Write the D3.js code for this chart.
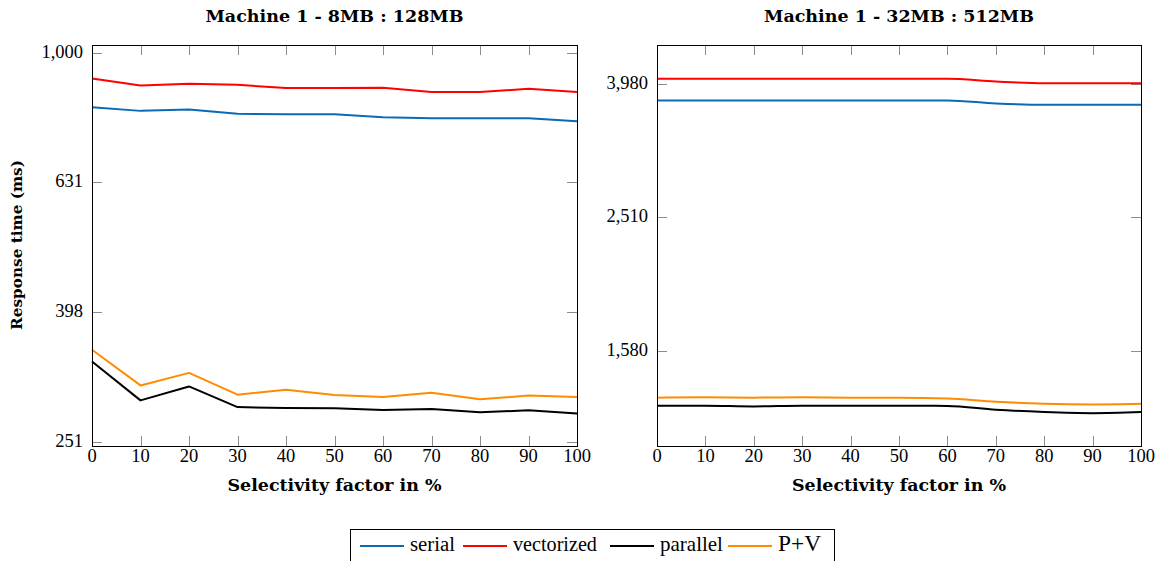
<!DOCTYPE html>
<html><head><meta charset="utf-8">
<script src="https://cdn.jsdelivr.net/npm/d3@7"></script>
<style>body{margin:0;background:#fff}svg{display:block}</style>
</head><body>
<svg id="c" width="1157" height="561"></svg>
<script>
const xs = [0,10,20,30,40,50,60,70,80,90,100];
const xTicks = [0,10,20,30,40,50,60,70,80,90,100];
const seriesNames = ["serial","vectorized","parallel","P+V"];
const colors = ["#0a6ab4","#ff0000","#000000","#ff8c00"];

const leftTitle = "Machine 1 - 8MB : 128MB";
const leftSerial = [823.9,813.4,817.1,804.8,803.9,803.9,795.4,792.6,792.6,792.6,784.3];
const leftVector = [912.5,890.3,895.4,892.2,882.0,882.0,882.9,869.6,869.6,879.9,869.6];
const leftParallel = [334.1,290.9,305.7,284.1,283.1,282.8,281.1,282.1,278.8,280.8,277.6];
const leftPV = [348.2,306.8,320.8,296.9,302.2,296.5,294.4,299.0,292.0,295.9,294.4];
const leftYTicks = [251.19,398.11,630.96,1000];
const leftYLabels = ["251","398","631","1,000"];
const leftDomain = [247.4,1027.8];

const rightTitle = "Machine 1 - 32MB : 512MB";
const rightSerial = [3758,3758,3758,3758,3758,3758,3758,3720,3703,3703,3703];
const rightVector = [4049,4049,4049,4049,4049,4049,4049,4012,3989,3989,3989];
const rightParallel = [1313,1313,1310,1313,1313,1313,1312,1295,1285,1280,1285];
const rightPV = [1350,1352,1350,1352,1350,1350,1346,1331,1322,1319,1322];
const rightYTicks = [1584.89,2511.89,3981.07];
const rightYLabels = ["1,580","2,510","3,980"];
const rightDomain = [1143,4549];

const xLabel = "Selectivity factor in %";
const yLabel = "Response time (ms)";

const svg = d3.select("#c");
const serif = "'DejaVu Serif', serif";
const tickFont = "'Liberation Serif', serif";

function fitText(sel, target){
  const w = sel.node().getComputedTextLength();
  const fs = parseFloat(sel.attr("font-size"));
  sel.attr("font-size", (fs*target/w).toFixed(2));
}

function panel(x0,x1,y0,y1,domain,yTicks,yLabels,series,title,titleW,curve){
  const g = svg.append("g");
  const x = d3.scaleLinear().domain([0,100]).range([x0,x1]);
  const y = d3.scaleLog().domain(domain).range([y1,y0]);
  const tl = 10;
  const tg = g.append("g").attr("stroke","#8c8c8c").attr("stroke-width",1);
  xTicks.forEach(t=>{
    const px = Math.round(x(t))+0.5;
    tg.append("line").attr("x1",px).attr("x2",px).attr("y1",y1).attr("y2",y1-tl);
    tg.append("line").attr("x1",px).attr("x2",px).attr("y1",y0).attr("y2",y0+tl);
  });
  yTicks.forEach(t=>{
    const py = Math.round(y(t))+0.5;
    tg.append("line").attr("x1",x0).attr("x2",x0+tl).attr("y1",py).attr("y2",py);
    tg.append("line").attr("x1",x1).attr("x2",x1-tl).attr("y1",py).attr("y2",py);
  });
  const line = d3.line().x((d,i)=>x(xs[i])).y(d=>y(d)).curve(curve);
  series.forEach((s,i)=>{
    g.append("path").attr("d",line(s)).attr("fill","none")
     .attr("stroke",colors[i]).attr("stroke-width",2).attr("stroke-linejoin","round");
  });
  g.append("rect").attr("x",x0+0.5).attr("y",y0+0.5).attr("width",x1-x0).attr("height",y1-y0)
   .attr("fill","none").attr("stroke","#000").attr("stroke-width",1);
  xTicks.forEach(t=>{
    g.append("text").attr("x",x(t)).attr("y",y1+16).attr("text-anchor","middle")
     .attr("font-family",tickFont).attr("font-size",18.5).attr("fill","#000").text(t);
  });
  yTicks.forEach((t,i)=>{
    g.append("text").attr("x",x0-9).attr("y",y(t)+5).attr("text-anchor","end")
     .attr("font-family",tickFont).attr("font-size",18.5).attr("fill","#000").text(yLabels[i]);
  });
  const tt = g.append("text").attr("x",(x0+x1)/2).attr("y",22).attr("text-anchor","middle")
   .attr("font-family",serif).attr("font-weight","bold").attr("font-size",13).attr("fill","#000").text(title);
  fitText(tt,titleW);
  const xl = g.append("text").attr("x",(x0+x1)/2).attr("y",491).attr("text-anchor","middle")
   .attr("font-family",serif).attr("font-weight","bold").attr("font-size",13).attr("fill","#000").text(xLabel);
  fitText(xl,214);
}

panel(92,577,45,446,leftDomain,leftYTicks,leftYLabels,[leftSerial,leftVector,leftParallel,leftPV],leftTitle,258,d3.curveLinear);
panel(657,1141,45,446,rightDomain,rightYTicks,rightYLabels,[rightSerial,rightVector,rightParallel,rightPV],rightTitle,270,d3.curveMonotoneX);

const yl = svg.append("text").attr("transform","translate(22,245) rotate(-90)").attr("text-anchor","middle")
  .attr("font-family",serif).attr("font-weight","bold").attr("font-size",13).attr("fill","#000").text(yLabel);
fitText(yl,170);

const lg = svg.append("g");
lg.append("rect").attr("x",350.5).attr("y",529.5).attr("width",484).attr("height",40)
  .attr("fill","#fff").attr("stroke","#000").attr("stroke-width",1);
const legX = [360,463,610,728];
const legW = [45,84,63,43];
seriesNames.forEach((n,i)=>{
  lg.append("line").attr("x1",legX[i]).attr("x2",legX[i]+44).attr("y1",546).attr("y2",546)
    .attr("stroke",colors[i]).attr("stroke-width",2);
  const t = lg.append("text").attr("x",legX[i]+50).attr("y",551).attr("font-family",tickFont)
    .attr("font-size",17).attr("fill","#000").text(n);
  fitText(t,legW[i]);
});
</script>
</body></html>
